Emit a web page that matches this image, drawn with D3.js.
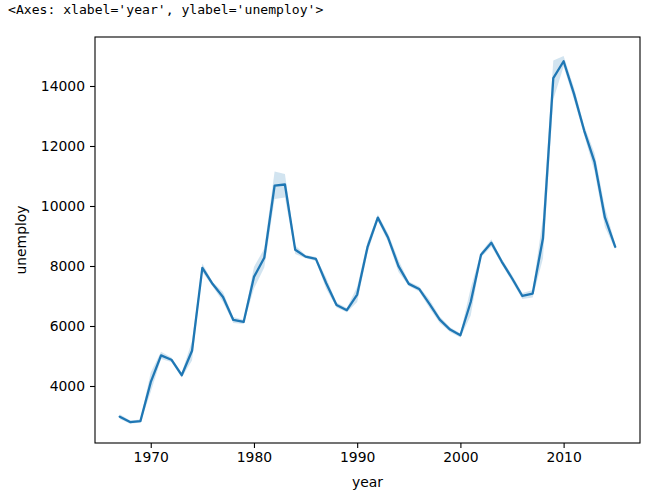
<!DOCTYPE html>
<html>
<head>
<meta charset="utf-8">
<script src="https://cdn.jsdelivr.net/npm/d3@7"></script>
<style>
  body { margin: 0; background: #fff; }
  text { font-family: "DejaVu Sans", sans-serif; fill: #000; }
</style>
</head>
<body>
<svg id="chart" width="655" height="498"></svg>
<script>
// yearly mean of unemploy, with the 95% band
const years = [1967, 1968, 1969, 1970, 1971, 1972, 1973, 1974, 1975, 1976,
  1977, 1978, 1979, 1980, 1981, 1982, 1983, 1984, 1985, 1986,
  1987, 1988, 1989, 1990, 1991, 1992, 1993, 1994, 1995, 1996,
  1997, 1998, 1999, 2000, 2001, 2002, 2003, 2004, 2005, 2006,
  2007, 2008, 2009, 2010, 2011, 2012, 2013, 2014, 2015];
const unemploy = [2978, 2797, 2830, 4127, 5022, 4876, 4359, 5173, 7940, 7398,
  6967, 6202, 6137, 7637, 8273, 10678, 10717, 8539, 8312, 8237,
  7425, 6701, 6528, 7047, 8628, 9613, 8940, 7996, 7404, 7236,
  6739, 6210, 5880, 5692, 6801, 8378, 8774, 8149, 7591, 7001,
  7078, 8924, 14265, 14825, 13747, 12506, 11460, 9617, 8641];
const ciLow = [2900, 2740, 2780, 3800, 4900, 4800, 4280, 4850, 7800, 7320,
  6800, 6100, 6070, 7250, 7950, 10230, 10280, 8400, 8260, 8170,
  7230, 6620, 6460, 6800, 8440, 9500, 8800, 7800, 7330, 7150,
  6600, 6100, 5800, 5620, 6350, 8290, 8650, 8060, 7480, 6900,
  6950, 8250, 13550, 14650, 13550, 12350, 11150, 9300, 8550];
const ciHigh = [3060, 2850, 2880, 4450, 5140, 4950, 4440, 5500, 8080, 7470,
  7130, 6300, 6210, 7970, 8580, 11150, 11070, 8680, 8370, 8300,
  7610, 6780, 6600, 7310, 8800, 9720, 9080, 8200, 7480, 7320,
  6880, 6320, 5960, 5760, 7270, 8460, 8890, 8240, 7700, 7100,
  7200, 9620, 14850, 15000, 13950, 12670, 11760, 9950, 8740];
const xTicks = [1970, 1980, 1990, 2000, 2010];
const yTicks = [4000, 6000, 8000, 10000, 12000, 14000];

const rows = years.map((y, i) => ({year: y, v: unemploy[i], lo: ciLow[i], hi: ciHigh[i]}));

const svg = d3.select("#chart");
const m = {left: 95, right: 640, top: 37, bottom: 443};
const blue = "#1f77b4";

// x padding like matplotlib's 5% margins
const span = d3.max(years) - d3.min(years);
const x = d3.scaleLinear()
  .domain([d3.min(years) - span * 0.05, d3.max(years) + span * 0.05])
  .range([m.left, m.right]);
const y = d3.scaleLinear()
  .domain([2100, 15633])
  .range([m.bottom, m.top]);

// confidence band
svg.append("path")
  .datum(rows)
  .attr("fill", blue)
  .attr("fill-opacity", 0.2)
  .attr("d", d3.area().x(d => x(d.year)).y0(d => y(d.lo)).y1(d => y(d.hi)));

// mean line
svg.append("path")
  .datum(rows)
  .attr("fill", "none")
  .attr("stroke", blue)
  .attr("stroke-width", 2.3)
  .attr("stroke-linejoin", "round")
  .attr("stroke-linecap", "round")
  .attr("d", d3.line().x(d => x(d.year)).y(d => y(d.v)));

// axes
let xAxis = d3.axisBottom(x).tickValues(xTicks).tickFormat(d3.format("d")).tickSize(5).tickSizeOuter(0).tickPadding(4);
let yAxis = d3.axisLeft(y).tickValues(yTicks).tickFormat(d3.format("d")).tickSize(5).tickSizeOuter(0).tickPadding(5);

let gx = svg.append("g").attr("transform", `translate(0,${m.bottom})`).call(xAxis);
let gy = svg.append("g").attr("transform", `translate(${m.left},0)`).call(yAxis);
[gx, gy].forEach(g => {
  g.select(".domain").remove();
  g.selectAll(".tick line").attr("stroke", "#000").attr("stroke-width", 1.1);
  g.selectAll(".tick text").style("font-family", "DejaVu Sans").style("font-size", "13.9px").attr("fill", "#000");
});

// frame
svg.append("rect")
  .attr("x", m.left).attr("y", m.top)
  .attr("width", m.right - m.left).attr("height", m.bottom - m.top)
  .attr("fill", "none").attr("stroke", "#000").attr("stroke-width", 1.1);

// labels
svg.append("text").text("year")
  .attr("x", (m.left + m.right) / 2).attr("y", 487)
  .attr("text-anchor", "middle").style("font-size", "13.9px");
svg.append("text").text("unemploy")
  .attr("transform", `translate(26,${(m.top + m.bottom) / 2}) rotate(-90)`)
  .attr("text-anchor", "middle").style("font-size", "13.9px");

// notebook output line above the chart
svg.append("text").text("<Axes: xlabel='year', ylabel='unemploy'>")
  .attr("x", 8).attr("y", 14)
  .style("font-family", "DejaVu Sans Mono, monospace").style("font-size", "13.1px").attr("fill", "#222");
</script>
</body>
</html>
